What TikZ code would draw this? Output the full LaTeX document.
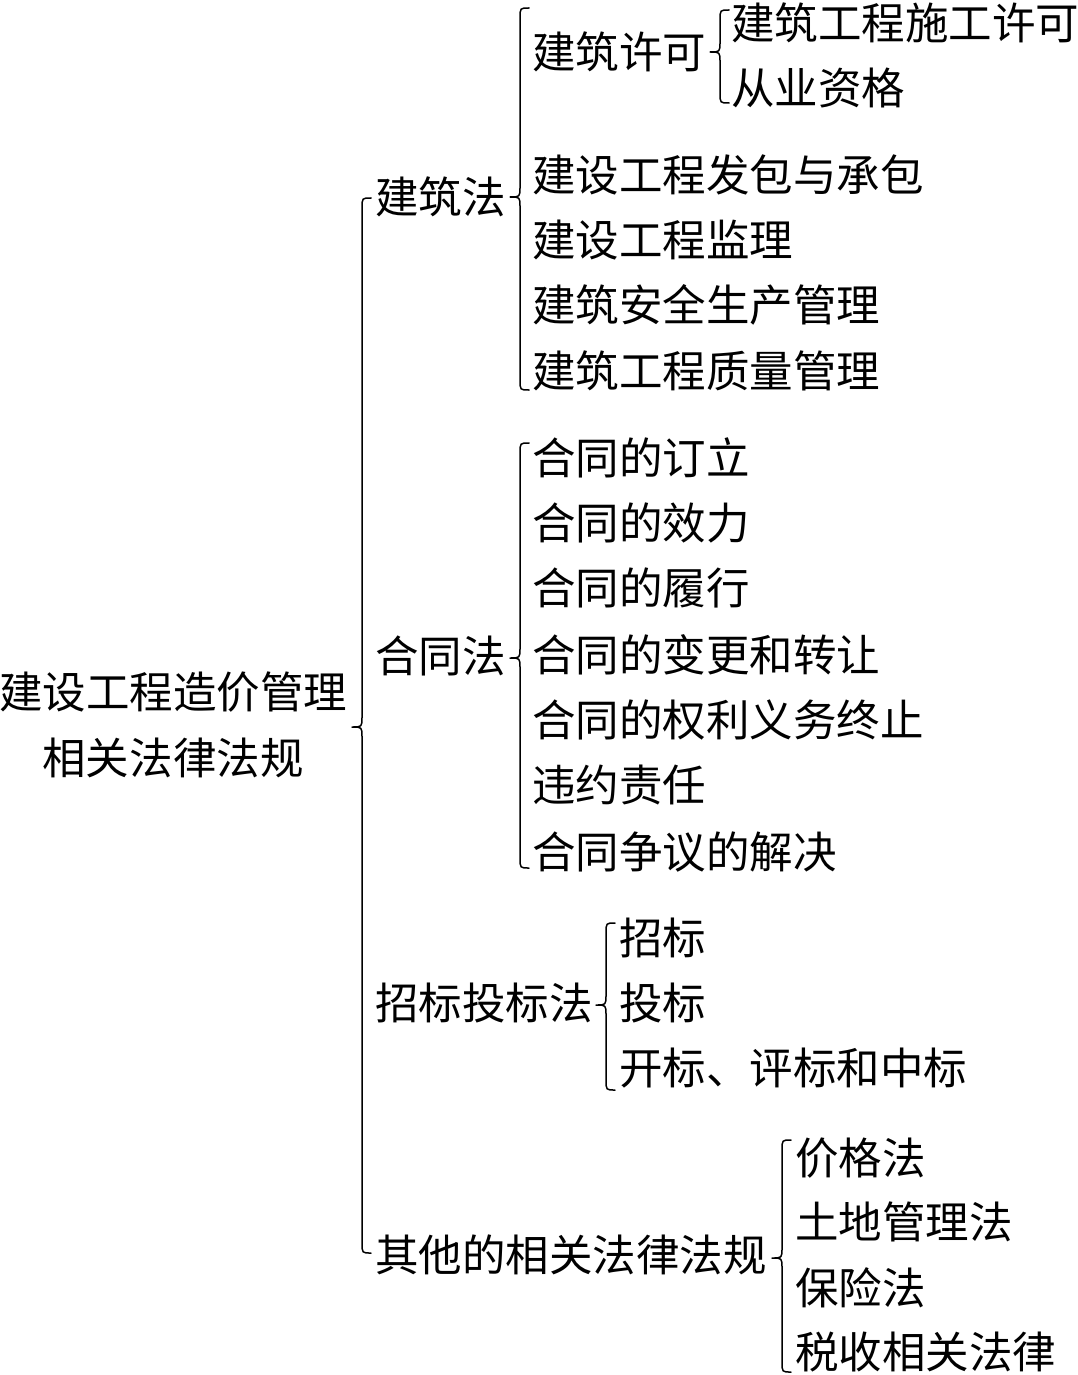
\documentclass[tikz,border=0pt]{standalone}
\usepackage{fontspec}
\newfontfamily\cjk{Noto Sans CJK SC}
\begin{document}
\begin{tikzpicture}[x=1pt,y=-1pt,
  txt/.style={anchor=west,inner sep=0pt,font=\cjk\fontsize{43.5}{66}\selectfont,text height=38pt,text depth=5pt},
  brc/.style={draw=black,line width=1.5pt,line cap=round,line join=round}]
\useasboundingbox (0,0) rectangle (1077,1375);
\newcommand\brc[4]{\draw[brc] (#1+9,#2) .. controls (#1,#2) .. (#1,#2+10) -- (#1,#3-10) .. controls (#1,#3) .. (#1-10,#3) .. controls (#1,#3) .. (#1,#3+10) -- (#1,#4-10) .. controls (#1,#4) .. (#1+9,#4);}
% root
\node[inner sep=0pt,align=center,font=\cjk\fontsize{43.5}{66}\selectfont] (root) at (173,725) {建设工程造价管理\\相关法律法规};
% level 1
\node[txt] (jzf) at (375,197) {建筑法};
\node[txt] (htf) at (375,656) {合同法};
\node[txt] (ztb) at (375,1003) {招标投标法};
\node[txt] (qt)  at (375,1255) {其他的相关法律法规};
% 建筑法
\node[txt] (jzxk) at (532,52) {建筑许可};
\node[txt] (sgxk) at (731,23) {建筑工程施工许可};
\node[txt] (cyzg) at (731,88) {从业资格};
\node[txt] (fbcb) at (532,175) {建设工程发包与承包};
\node[txt] (jl)   at (532,240) {建设工程监理};
\node[txt] (aq)   at (532,305) {建筑安全生产管理};
\node[txt] (zl)   at (532,371) {建筑工程质量管理};
% 合同法
\node[txt] (h1) at (532,458) {合同的订立};
\node[txt] (h2) at (532,523) {合同的效力};
\node[txt] (h3) at (532,588) {合同的履行};
\node[txt] (h4) at (532,655) {合同的变更和转让};
\node[txt] (h5) at (532,720) {合同的权利义务终止};
\node[txt] (h6) at (532,785) {违约责任};
\node[txt] (h7) at (532,852) {合同争议的解决};
% 招标投标法
\node[txt] (z1) at (619,938) {招标};
\node[txt] (z2) at (619,1003) {投标};
\node[txt] (z3) at (619,1068) {开标、评标和中标};
% 其他
\node[txt] (q1) at (795,1158) {价格法};
\node[txt] (q2) at (795,1222) {土地管理法};
\node[txt] (q3) at (795,1288) {保险法};
\node[txt] (q4) at (795,1352) {税收相关法律};
% braces
\brc{362}{198}{727}{1253}
\brc{520}{8}{197}{390}
\brc{720}{10}{52}{103}
\brc{520}{443}{658}{868}
\brc{606}{923}{1005}{1090}
\brc{782}{1140}{1258}{1372}
\end{tikzpicture}
\end{document}
